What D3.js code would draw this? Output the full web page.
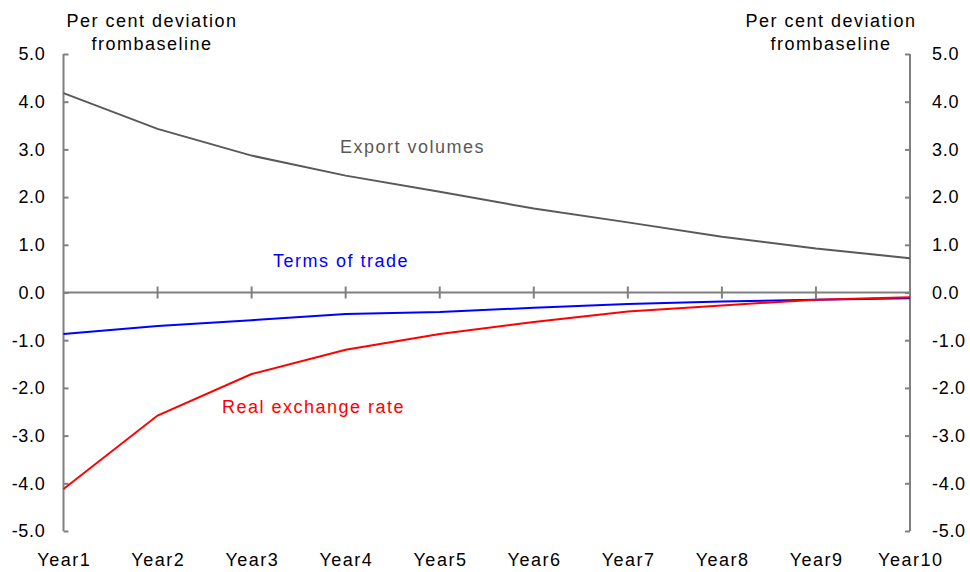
<!DOCTYPE html>
<html>
<head>
<meta charset="utf-8">
<script src="https://cdn.jsdelivr.net/npm/d3@7"></script>
<style>
  body { margin: 0; background: #fff; }
  text { font-family: "Liberation Sans", Arial, sans-serif; }
</style>
</head>
<body>
<div id="chart"></div>
<script>
/* Data */
var years = ["Year1", "Year2", "Year3", "Year4", "Year5", "Year6", "Year7", "Year8", "Year9", "Year10"];
var exportVolumes = [4.18, 3.43, 2.87, 2.45, 2.11, 1.76, 1.47, 1.17, 0.92, 0.72];
var termsOfTrade = [-0.87, -0.70, -0.58, -0.45, -0.41, -0.32, -0.24, -0.19, -0.15, -0.12];
var realExchangeRate = [-4.12, -2.58, -1.71, -1.20, -0.87, -0.62, -0.40, -0.27, -0.15, -0.10];
var yTicks = [5, 4, 3, 2, 1, 0, -1, -2, -3, -4, -5];

/* Overall SVG container */
var width = 970, height = 572;
var plot = { left: 63.5, right: 910, top: 54, bottom: 531 };
var fontSize = 18,
    spacing = 1.5; // Excel-style wide text

var svg = d3.select("#chart")
    .append("svg")
    .attr("width", width)
    .attr("height", height);

var x = d3.scalePoint()
    .domain(years)
    .range([plot.left, plot.right]);

var y = d3.scaleLinear()
    .domain([-5, 5])
    .range([plot.bottom, plot.top]);

var axisColor = "#808080";

/* Left axis, ticks pointing inwards */
var leftAxis = svg.append("g")
    .attr("transform", "translate(" + plot.left + ",0)")
    .call(d3.axisRight(y).tickValues(yTicks).tickSize(5).tickFormat(""));
leftAxis.select(".domain").attr("d", "M0," + plot.top + "V" + plot.bottom);

/* Right axis, ticks pointing inwards */
var rightAxis = svg.append("g")
    .attr("transform", "translate(" + plot.right + ",0)")
    .call(d3.axisLeft(y).tickValues(yTicks).tickSize(5).tickFormat(""));
rightAxis.select(".domain").attr("d", "M0," + plot.top + "V" + plot.bottom);

svg.selectAll(".domain, .tick line")
    .attr("stroke", axisColor)
    .attr("stroke-width", 2);

function fmt(d) { return d.toFixed(1); } // plain hyphen minus, as in the original

/* Tick labels */
svg.append("g").selectAll("text")
    .data(yTicks)
    .enter().append("text")
    .attr("x", 45.5)
    .attr("y", function(d) { return y(d); })
    .attr("dy", "0.35em")
    .attr("text-anchor", "end")
    .attr("font-size", fontSize)
    .attr("letter-spacing", 0.7)
    .attr("fill", "#000")
    .text(fmt);

svg.append("g").selectAll("text")
    .data(yTicks)
    .enter().append("text")
    .attr("x", 932)
    .attr("y", function(d) { return y(d); })
    .attr("dy", "0.35em")
    .attr("text-anchor", "start")
    .attr("font-size", fontSize)
    .attr("letter-spacing", 0.7)
    .attr("fill", "#000")
    .text(fmt);

/* Zero line with crossing ticks */
var zeroAxis = svg.append("g")
    .attr("transform", "translate(0," + y(0) + ")");
zeroAxis.append("line")
    .attr("x1", plot.left).attr("x2", plot.right)
    .attr("stroke", axisColor).attr("stroke-width", 2);
zeroAxis.selectAll(".xt")
    .data(years.slice(1))
    .enter().append("line")
    .attr("class", "xt")
    .attr("x1", function(d) { return x(d); })
    .attr("x2", function(d) { return x(d); })
    .attr("y1", -6).attr("y2", 6)
    .attr("stroke", axisColor).attr("stroke-width", 2);

/* Category labels */
svg.append("g").selectAll("text")
    .data(years)
    .enter().append("text")
    .attr("x", function(d) { return x(d) + spacing / 2; })
    .attr("y", 566)
    .attr("text-anchor", "middle")
    .attr("font-size", fontSize)
    .attr("letter-spacing", spacing)
    .attr("fill", "#000")
    .text(function(d) { return d; });

/* Axis titles */
[152, 831].forEach(function(cx) {
    var t = svg.append("text")
        .attr("text-anchor", "middle")
        .attr("font-size", fontSize)
        .attr("letter-spacing", spacing)
        .attr("fill", "#000");
    t.append("tspan").attr("x", cx).attr("y", 27).text("Per cent deviation");
    t.append("tspan").attr("x", cx).attr("y", 50).text("frombaseline");
});

/* Lines */
var line = d3.line()
    .x(function(d, i) { return x(years[i]); })
    .y(function(d) { return y(d); });

var series = [
    { values: exportVolumes, color: "#595959" },
    { values: termsOfTrade, color: "#0000ff" },
    { values: realExchangeRate, color: "#ff0000" }
];

svg.append("g").selectAll("path")
    .data(series)
    .enter().append("path")
    .attr("d", function(d) { return line(d.values); })
    .attr("fill", "none")
    .attr("stroke", function(d) { return d.color; })
    .attr("stroke-width", 2);

/* Series labels */
var labels = [
    { text: "Export volumes", x: 340, y: 153, color: "#595959" },
    { text: "Terms of trade", x: 273, y: 267, color: "#0000ff" },
    { text: "Real exchange rate", x: 222, y: 413, color: "#ff0000" }
];

svg.append("g").selectAll("text")
    .data(labels)
    .enter().append("text")
    .attr("x", function(d) { return d.x; })
    .attr("y", function(d) { return d.y; })
    .attr("font-size", fontSize)
    .attr("letter-spacing", spacing)
    .attr("fill", function(d) { return d.color; })
    .text(function(d) { return d.text; });
</script>
</body>
</html>
